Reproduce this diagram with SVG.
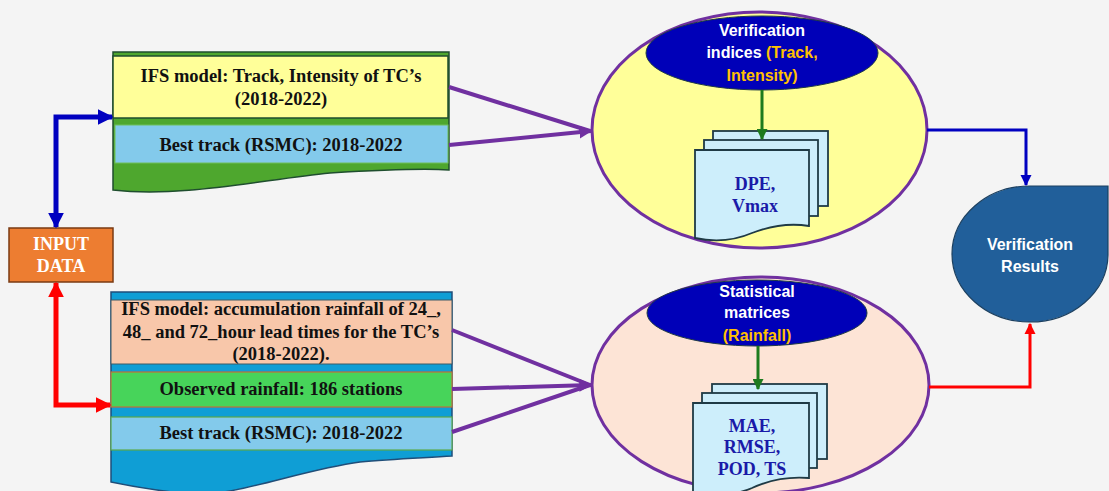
<svg xmlns="http://www.w3.org/2000/svg" width="1109" height="491" viewBox="0 0 1109 491">
<defs>
<style>
.serif{font-family:"Liberation Serif","Times New Roman",serif;font-weight:bold;text-anchor:middle;}
.sans{font-family:"Liberation Sans",Arial,sans-serif;font-weight:bold;text-anchor:middle;}
.blk{fill:#111111;font-size:18.5px;}
.navy{fill:#1a1aa8;font-size:18px;}
.wht{fill:#ffffff;font-size:16px;}
.org{fill:#ffc000;}
.page{fill:#cdeefb;stroke:#1f3a45;stroke-width:1.8;}
.conn{fill:none;}
</style>
<marker id="hBlue" viewBox="0 0 10 10" refX="9" refY="5" markerUnits="userSpaceOnUse" markerWidth="16" markerHeight="16" orient="auto-start-reverse"><path d="M0,0 L10,5 L0,10 z" fill="#0000c0"/></marker>
<marker id="hRed" viewBox="0 0 10 10" refX="9" refY="5" markerUnits="userSpaceOnUse" markerWidth="16" markerHeight="16" orient="auto-start-reverse"><path d="M0,0 L10,5 L0,10 z" fill="#ff0000"/></marker>
<marker id="hBlueS" viewBox="0 0 10 10" refX="9" refY="5" markerUnits="userSpaceOnUse" markerWidth="11" markerHeight="12" orient="auto"><path d="M0,0 L10,5 L0,10 z" fill="#0000c0"/></marker>
<marker id="hRedS" viewBox="0 0 10 10" refX="9" refY="5" markerUnits="userSpaceOnUse" markerWidth="11" markerHeight="12" orient="auto"><path d="M0,0 L10,5 L0,10 z" fill="#ff0000"/></marker>
<marker id="hPur" viewBox="0 0 10 10" refX="9" refY="5" markerUnits="userSpaceOnUse" markerWidth="13" markerHeight="13" orient="auto"><path d="M0,0 L10,5 L0,10 z" fill="#7030a0"/></marker>
<marker id="hGrn" viewBox="0 0 10 10" refX="9" refY="5" markerUnits="userSpaceOnUse" markerWidth="11" markerHeight="11" orient="auto"><path d="M0,0 L10,5 L0,10 z" fill="#1e7b1e"/></marker>
</defs>
<rect x="0" y="0" width="1109" height="491" fill="#f4f4f4"/>

<g id="input-data">
<rect x="9" y="228" width="104" height="54" fill="#ed7d31" stroke="#7a3a12" stroke-width="1.5"/>
<text class="serif" x="61" y="250" fill="#ffffff" font-size="18">INPUT</text>
<text class="serif" x="61" y="272" fill="#ffffff" font-size="18">DATA</text>
</g>

<g id="track-data">
<path d="M113,52 H449 V170 C 420,168 380,170 330,173 C 260,180 180,198 113,190 Z" fill="#4ea72e" stroke="#1f4e2e" stroke-width="1.5"/>
<rect x="113" y="56" width="335" height="62" fill="#ffff99" stroke="#1f4e2e" stroke-width="1.5"/>
<rect x="115" y="125" width="333" height="38" fill="#83caeb" stroke="#6fbf5a" stroke-width="1"/>
<text class="serif blk" x="281" y="82">IFS model: Track, Intensity of TC’s</text>
<text class="serif blk" x="281" y="105">(2018-2022)</text>
<text class="serif blk" x="281" y="151">Best track (RSMC): 2018-2022</text>
</g>

<g id="rainfall-data">
<path d="M111,292 H452 V456 C 420,458 390,459 360,462 C 300,470 230,498 190,494 C 160,491 130,486 111,482 Z" fill="#0f9ed5" stroke="#1f4e79" stroke-width="1.5"/>
<rect x="111" y="300" width="341" height="64" fill="#f8c7aa" stroke="#3d5a66" stroke-width="1"/>
<rect x="111" y="372" width="341" height="35" fill="#47d45a" stroke="#c07038" stroke-width="1.2"/>
<rect x="111" y="417" width="341" height="33" fill="#83caeb" stroke="#5aa84a" stroke-width="1.2"/>
<text class="serif blk" x="281" y="315">IFS model: accumulation rainfall of 24_,</text>
<text class="serif blk" x="281" y="338">48_ and 72_hour lead times for the TC’s</text>
<text class="serif blk" x="281" y="360">(2018-2022).</text>
<text class="serif blk" x="281" y="395">Observed rainfall: 186 stations</text>
<text class="serif blk" x="281" y="439">Best track (RSMC): 2018-2022</text>
</g>

<g id="verification-indices">
<ellipse cx="759.5" cy="130" rx="167.5" ry="118" fill="#ffff99" stroke="#7030a0" stroke-width="3"/>
<ellipse cx="762" cy="53" rx="116" ry="37" fill="#0000b8" stroke="#1f3a45" stroke-width="1"/>
<text class="sans wht" x="762" y="36">Verification</text>
<text class="sans wht" x="762" y="58">indices <tspan class="org">(Track,</tspan></text>
<text class="sans wht" x="762" y="81"><tspan class="org">Intensity)</tspan></text>
<rect class="page" x="713" y="131" width="115" height="75"/>
<rect class="page" x="704" y="140" width="114" height="76"/>
<path class="page" d="M695,150 H809 V226 C 785,222 765,228 752,233 C 738,239 718,243 695,238 Z"/>
<text class="serif navy" x="755" y="190">DPE,</text>
<text class="serif navy" x="755" y="212">Vmax</text>
</g>

<g id="statistical-matrices">
<ellipse cx="760.5" cy="385" rx="168.5" ry="108" fill="#fde4d6" stroke="#7030a0" stroke-width="3"/>
<ellipse cx="757" cy="313" rx="110" ry="33" fill="#0000b8" stroke="#1f3a45" stroke-width="1"/>
<text class="sans wht" x="757" y="297">Statistical</text>
<text class="sans wht" x="757" y="318">matrices</text>
<text class="sans wht" x="757" y="341"><tspan class="org">(Rainfall)</tspan></text>
<rect class="page" x="712" y="384" width="115" height="75"/>
<rect class="page" x="702" y="393" width="115" height="75"/>
<path class="page" d="M693,403 H809 V478 C 785,476 765,482 752,488 C 738,494 718,497 693,493 Z"/>
<text class="serif navy" x="752" y="432">MAE,</text>
<text class="serif navy" x="752" y="453">RMSE,</text>
<text class="serif navy" x="752" y="475">POD, TS</text>
</g>

<g id="verification-results">
<path d="M1030,186 H1108 V255 A78,68 0 1 1 1030,186 Z" fill="#215f9a" stroke="#1c4060" stroke-width="1.2"/>
<text class="sans wht" x="1030" y="250">Verification</text>
<text class="sans wht" x="1030" y="272">Results</text>
</g>

<g id="connectors">
<path class="conn" d="M56,227 V117 H112" stroke="#0000c0" stroke-width="5" marker-start="url(#hBlue)" marker-end="url(#hBlue)"/>
<path class="conn" d="M56,283 V405 H110" stroke="#ff0000" stroke-width="5" marker-start="url(#hRed)" marker-end="url(#hRed)"/>
<line x1="449" y1="87" x2="590" y2="131" stroke="#7030a0" stroke-width="4"/>
<line x1="449" y1="145" x2="591" y2="131" stroke="#7030a0" stroke-width="4" marker-end="url(#hPur)"/>
<line x1="452" y1="330" x2="590" y2="385" stroke="#7030a0" stroke-width="4"/>
<line x1="452" y1="389" x2="591" y2="385" stroke="#7030a0" stroke-width="4" marker-end="url(#hPur)"/>
<line x1="452" y1="432" x2="590" y2="385" stroke="#7030a0" stroke-width="4"/>
<line x1="762" y1="90" x2="762" y2="139" stroke="#1e7b1e" stroke-width="3" marker-end="url(#hGrn)"/>
<line x1="758" y1="346" x2="758" y2="389" stroke="#1e7b1e" stroke-width="3" marker-end="url(#hGrn)"/>
<path class="conn" d="M927,130 H1026 V185" stroke="#0000c0" stroke-width="3" marker-end="url(#hBlueS)"/>
<path class="conn" d="M929,387 H1030 V324" stroke="#ff0000" stroke-width="3" marker-end="url(#hRedS)"/>
</g>
</svg>
